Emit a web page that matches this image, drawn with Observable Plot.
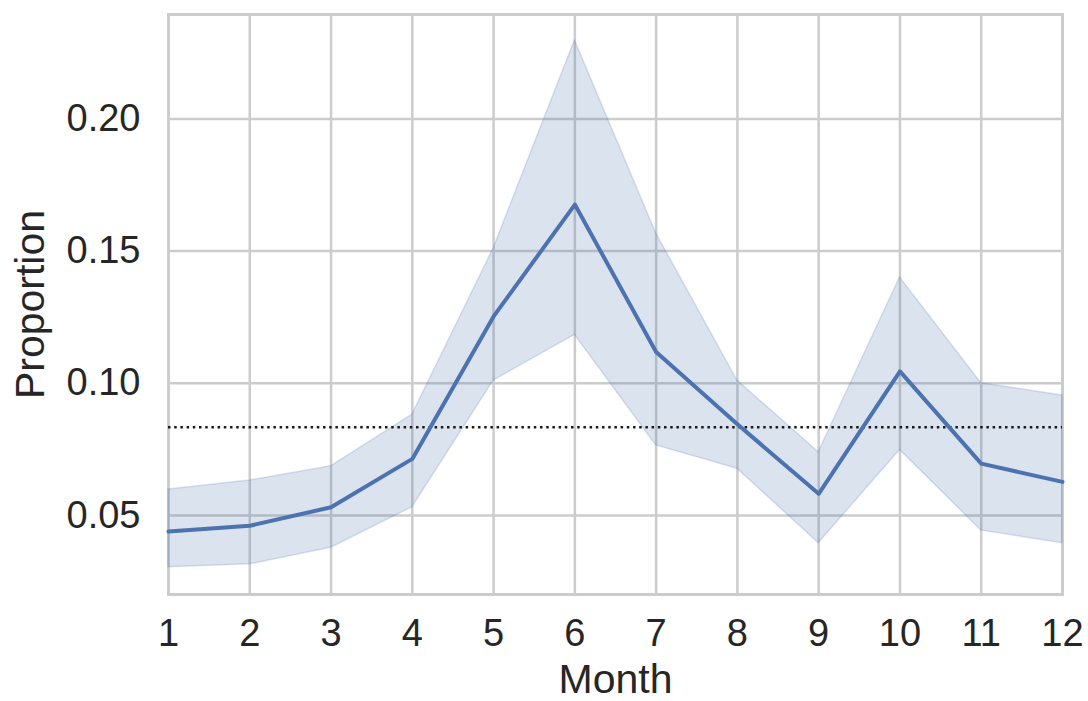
<!DOCTYPE html>
<html>
<head>
<meta charset="utf-8">
<script src="https://cdn.jsdelivr.net/npm/d3@7"></script>
<script src="https://cdn.jsdelivr.net/npm/@observablehq/plot@0.6"></script>
<style>
  html, body { margin: 0; padding: 0; background: #ffffff; }
  #chart svg { display: block; }
</style>
</head>
<body>
<div id="chart"></div>
<script>
const months = [1, 2, 3, 4, 5, 6, 7, 8, 9, 10, 11, 12];
const meanValues = [0.0439, 0.0461, 0.0531, 0.0714, 0.1253, 0.1676, 0.1118, 0.0845, 0.0582, 0.1045, 0.0696, 0.0627];
const lowerValues = [0.0304, 0.0315, 0.0378, 0.0531, 0.1010, 0.1183, 0.0765, 0.0677, 0.0395, 0.0748, 0.0443, 0.0395];
const upperValues = [0.0598, 0.0632, 0.0686, 0.0881, 0.1510, 0.2297, 0.1567, 0.1010, 0.0739, 0.1400, 0.1000, 0.0954];
const yTicks = [0.05, 0.10, 0.15, 0.20];
const referenceLevel = [1 / 12];
const xLabel = "Month";
const yLabel = "Proportion";

const data = months.map((m, i) => ({month: m, mean: meanValues[i], lo: lowerValues[i], hi: upperValues[i]}));

const blue = "#4c72b0";
const grid = "#cccccc";
const ink = "#262626";
const font = "'Liberation Sans', Arial, Helvetica, sans-serif";

const chart = Plot.plot({
  width: 1088,
  height: 701,
  marginLeft: 168,
  marginRight: 26,
  marginTop: 14,
  marginBottom: 107,
  style: {background: "#ffffff", fontFamily: font, color: ink},
  x: {domain: [1, 12]},
  y: {domain: [0.0201, 0.2395]},
  marks: [
    Plot.gridX(months, {stroke: grid, strokeOpacity: 1, strokeWidth: 2.5}),
    Plot.gridY(yTicks, {stroke: grid, strokeOpacity: 1, strokeWidth: 2.5}),
    Plot.frame({stroke: grid, strokeWidth: 3}),
    Plot.areaY(data, {x: "month", y1: "lo", y2: "hi", fill: blue, fillOpacity: 0.2, stroke: blue, strokeOpacity: 0.2, strokeWidth: 1.5}),
    Plot.ruleY(referenceLevel, {stroke: "#1a1a1a", strokeWidth: 2.5, strokeDasharray: "2.5,3.7"}),
    Plot.lineY(data, {x: "month", y: "mean", stroke: blue, strokeWidth: 4, strokeLinejoin: "round"}),
    Plot.axisX(months, {tickSize: 0, tickPadding: 25, fontSize: 38, label: null, fill: ink, tickFormat: d3.format("d")}),
    Plot.axisY(yTicks, {tickSize: 0, tickPadding: 28, fontSize: 38, label: null, fill: ink, tickFormat: d3.format(".2f")}),
    Plot.text([xLabel], {frameAnchor: "bottom", textAnchor: "middle", lineAnchor: "bottom", dy: 98, fontSize: 41, fill: ink, text: d => d}),
    Plot.text([yLabel], {frameAnchor: "left", textAnchor: "middle", lineAnchor: "middle", rotate: -90, dx: -138, fontSize: 41, fill: ink, text: d => d})
  ]
});
document.getElementById("chart").appendChild(chart);
</script>
</body>
</html>
